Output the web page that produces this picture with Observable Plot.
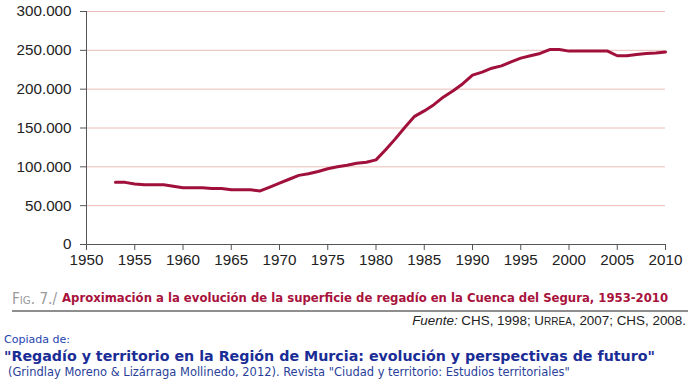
<!DOCTYPE html>
<html>
<head>
<meta charset="utf-8">
<script src="https://cdn.jsdelivr.net/npm/d3@7"></script>
<script src="https://cdn.jsdelivr.net/npm/@observablehq/plot@0.6"></script>
<style>
  html, body { margin: 0; padding: 0; background: #fff; width: 690px; height: 385px; overflow: hidden; }
  #chart svg { display: block; }
  .t { position: absolute; white-space: nowrap; line-height: 1; }
</style>
</head>
<body>
<div id="chart" style="position:absolute;left:0;top:0;"></div>
<div class="t" id="figlab" data-w="45" style="left:12px;top:292px;font-family:'DejaVu Sans Condensed','DejaVu Sans',sans-serif;font-size:14px;color:#9a9a9a;">F<span style="font-size:0.75em;">IG</span>. 7./</div>
<div class="t" id="figtitle" data-w="606" style="left:62px;top:292px;font-family:'DejaVu Sans Condensed','DejaVu Sans',sans-serif;font-size:13.5px;font-weight:bold;color:#a8123c;">Aproximación a la evolución de la superficie de regadío en la Cuenca del Segura, 1953-2010</div>
<div style="position:absolute;left:12px;top:310px;width:676px;height:0;border-top:2px solid #8e8e8e;"></div>
<div class="t" id="fuente" data-w="274" style="right:4px;top:314px;font-family:'Liberation Sans',Arial,sans-serif;font-size:13.5px;color:#222;">
<i>Fuente:</i> CHS, 1998; U<span style="font-size:0.75em;">RREA</span>, 2007; CHS, 2008.</div>
<div class="t" id="copiada" data-w="66" style="left:4px;top:334px;font-family:'DejaVu Sans',sans-serif;font-size:11px;color:#1e44b0;">Copiada de:</div>
<div class="t" id="art" data-w="651" style="left:4px;top:349px;font-family:'DejaVu Sans',sans-serif;font-size:14px;font-weight:bold;color:#1a2d96;">"Regadío y territorio en la Región de Murcia: evolución y perspectivas de futuro"</div>
<div class="t" id="ref" data-w="562" style="left:8px;top:366px;font-family:'DejaVu Sans Condensed','DejaVu Sans',sans-serif;font-size:11px;color:#2a3f9a;">(Grindlay Moreno &amp; Lizárraga Mollinedo, 2012). Revista "Ciudad y territorio: Estudios territoriales"</div>
<script>
const years = [1953,1954,1955,1956,1957,1958,1959,1960,1961,1962,1963,1964,1965,1966,1967,1968,1969,1970,1971,1972,1973,1974,1975,1976,1977,1978,1979,1980,1981,1982,1983,1984,1985,1986,1987,1988,1989,1990,1991,1992,1993,1994,1995,1996,1997,1998,1999,2000,2001,2002,2003,2004,2005,2006,2007,2008,2009,2010];
const hectares = [80000,80000,78000,77000,77000,77000,75000,73000,73000,73000,72000,72000,70500,70500,70500,69000,74000,79000,84000,89000,91000,94000,97500,100000,102000,104500,106000,109000,122000,136000,151000,165000,172000,180000,190000,198000,207000,218000,222000,227000,230000,235000,240000,243000,246000,251000,251000,249000,249000,249000,249000,249000,243000,243000,244500,246000,246500,248000];
const xTicks = [1950,1955,1960,1965,1970,1975,1980,1985,1990,1995,2000,2005,2010];
const yTicks = [0,50000,100000,150000,200000,250000,300000];

const data = years.map((y, i) => ({year: y, value: hectares[i]}));
const fmt = d => d === 0 ? "0" : d3.format(",")(d).replace(/,/g, ".");
const axisFont = "'Liberation Sans', Arial, sans-serif";

const chart = Plot.plot({
  width: 690,
  height: 275,
  marginTop: 11,
  marginBottom: 31,
  marginLeft: 86,
  marginRight: 25,
  style: {fontFamily: axisFont, fontSize: "15.2px", color: "#333"},
  x: {domain: [1950, 2010], label: null},
  y: {domain: [0, 300000], label: null},
  marks: [
    Plot.gridY(yTicks.filter(d => d > 0), {stroke: "#ebbdb6", strokeOpacity: 1, strokeWidth: 1}),
    Plot.axisX({ticks: xTicks, tickFormat: d => String(d), stroke: "#555", tickSize: 6, tickPadding: 4, fill: "#222", fontSize: 15.2, fontFamily: axisFont, label: null}),
    Plot.axisY({ticks: yTicks, tickFormat: fmt, stroke: "#555", tickSize: 6, tickPadding: 9, fill: "#222", fontSize: 15.2, fontFamily: axisFont, label: null}),
    Plot.ruleY([0], {stroke: "#555"}),
    Plot.ruleX([1950], {stroke: "#555"}),
    Plot.line(data, {x: "year", y: "value", stroke: "#a0103b", strokeWidth: 3, curve: "linear"})
  ]
});
document.getElementById("chart").appendChild(chart);

// fit caption texts to their measured widths in the reference
document.querySelectorAll(".t[data-w]").forEach(el => {
  const target = +el.dataset.w;
  const fs = parseFloat(getComputedStyle(el).fontSize);
  const w = el.getBoundingClientRect().width;
  if (w > 0) el.style.fontSize = (fs * target / w).toFixed(2) + "px";
});
</script>
</body>
</html>
